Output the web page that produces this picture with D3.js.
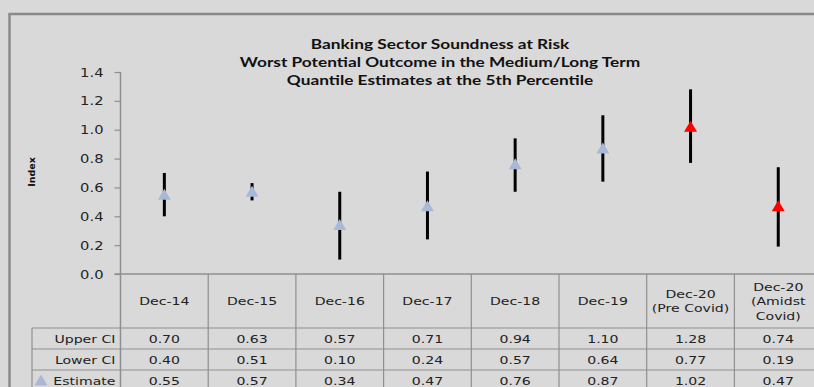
<!DOCTYPE html>
<html>
<head>
<meta charset="utf-8">
<script src="https://cdn.jsdelivr.net/npm/d3@7"></script>
<style>
  body { margin: 0; background: #d9d9d9; overflow: hidden; }
  svg { display: block; }
</style>
</head>
<body>
<div id="chart"></div>
<script>
// chart data
const categories = ["Dec-14", "Dec-15", "Dec-16", "Dec-17", "Dec-18", "Dec-19", "Dec-20 (Pre Covid)", "Dec-20 (Amidst Covid)"];
const headerLines = [["Dec-14"], ["Dec-15"], ["Dec-16"], ["Dec-17"], ["Dec-18"], ["Dec-19"], ["Dec-20", "(Pre Covid)"], ["Dec-20", "(Amidst", "Covid)"]];
const upperCI = [0.70, 0.63, 0.57, 0.71, 0.94, 1.10, 1.28, 0.74];
const lowerCI = [0.40, 0.51, 0.10, 0.24, 0.57, 0.64, 0.77, 0.19];
const estimate = [0.55, 0.57, 0.34, 0.47, 0.76, 0.87, 1.02, 0.47];
const highlighted = [false, false, false, false, false, false, true, true];
const yTicks = [0, 0.2, 0.4, 0.6, 0.8, 1.0, 1.2, 1.4];
const titleLines = ["Banking Sector Soundness at Risk", "Worst Potential Outcome in the Medium/Long Term", "Quantile Estimates at the 5th Percentile"];
const rowNames = ["Upper CI", "Lower CI", "Estimate"];

const width = 814, height = 387;
const margin = { top: 72, left: 120.5, bottom: 113 };
const colW = 87.7;
const gridColor = "#8f8f8f";
const blueTri = "#a7b9d7";
const sx = 1.28; // the reference text is stretched sideways
const font = "DejaVu Sans, sans-serif";

const svg = d3.select("#chart")
  .append("svg")
  .attr("width", width)
  .attr("height", height);

svg.append("rect").attr("width", width).attr("height", height).attr("fill", "#d9d9d9");

// outer frame
svg.append("rect")
  .attr("x", 9.5).attr("y", 14)
  .attr("width", width + 20).attr("height", height + 20)
  .attr("fill", "none")
  .attr("stroke", "#8a8a8a")
  .attr("stroke-width", 2.5);

const xScale = d3.scaleBand()
  .domain(categories)
  .range([margin.left, margin.left + colW * categories.length]);

const yScale = d3.scaleLinear()
  .domain([0, 1.4])
  .range([height - margin.bottom, margin.top]);

// helper: stretched text
function label(g, x, y, t, anchor, size) {
  return g.append("text")
    .attr("transform", `translate(${x},${y}) scale(${sx},1)`)
    .attr("text-anchor", anchor)
    .attr("font-family", font)
    .attr("font-size", size)
    .attr("fill", "#222")
    .text(t);
}

// title
svg.append("g").selectAll("text")
  .data(titleLines)
  .enter()
  .append("text")
    .attr("transform", (d, i) => `translate(440,${48.5 + i * 18.3}) scale(${sx},1)`)
    .attr("text-anchor", "middle")
    .attr("font-family", "Lato, sans-serif")
    .attr("font-weight", "bold")
    .attr("font-size", "13.5px")
    .attr("fill", "#111")
    .text(d => d);

// y axis
const yAxis = svg.append("g")
  .attr("transform", `translate(${margin.left},0)`)
  .call(d3.axisLeft(yScale).tickValues(yTicks).tickFormat(d3.format(".1f")).tickSize(6).tickPadding(10));
yAxis.select(".domain").attr("stroke", gridColor).attr("stroke-width", 1.5)
  .attr("d", `M0,${yScale(1.4)}V${height + 5}`);
yAxis.selectAll(".tick line").attr("stroke", gridColor).attr("stroke-width", 1.2);
yAxis.selectAll(".tick text").remove();
yAxis.selectAll(".tick").each(function(d) {
  label(d3.select(this), -17, 4, d3.format(".1f")(d), "end", "11.5px");
});

// y label
svg.append("text")
  .attr("transform", `translate(35,172) rotate(-90)`)
  .attr("text-anchor", "middle")
  .attr("font-family", font)
  .attr("font-weight", "bold")
  .attr("font-size", "9.5px")
  .attr("fill", "#111")
  .text("Index");

// x axis baseline
svg.append("line")
  .attr("x1", margin.left - 6).attr("x2", width + 10)
  .attr("y1", yScale(0)).attr("y2", yScale(0))
  .attr("stroke", gridColor).attr("stroke-width", 1.5);

// table grid
const rowTop = yScale(0) + 54;
const rowH = 21;
const tableLeft = 32;
const table = svg.append("g");
categories.forEach((c) => {
  table.append("line")
    .attr("x1", xScale(c) + colW).attr("x2", xScale(c) + colW)
    .attr("y1", yScale(0)).attr("y2", height + 5)
    .attr("stroke", gridColor).attr("stroke-width", 1.2);
});
rowNames.forEach((r, i) => {
  table.append("line")
    .attr("x1", tableLeft).attr("x2", width + 10)
    .attr("y1", rowTop + i * rowH).attr("y2", rowTop + i * rowH)
    .attr("stroke", gridColor).attr("stroke-width", 1.2);
});
table.append("line")
  .attr("x1", tableLeft).attr("x2", tableLeft)
  .attr("y1", rowTop).attr("y2", height + 5)
  .attr("stroke", gridColor).attr("stroke-width", 1.2);

// header labels
headerLines.forEach((lines, i) => {
  const cx = xScale(categories[i]) + colW / 2;
  const midY = (yScale(0) + rowTop) / 2 + 4;
  lines.forEach((t, j) => {
    label(table, cx, midY + (j - (lines.length - 1) / 2) * 14.5, t, "middle", "11px");
  });
});

// row labels and values
const rows = [upperCI, lowerCI, estimate];
rows.forEach((vals, r) => {
  const ty = rowTop + r * rowH + rowH / 2 + 4;
  label(table, margin.left - 5, ty, rowNames[r], "end", "11px");
  vals.forEach((v, i) => {
    label(table, xScale(categories[i]) + colW / 2, ty, v.toFixed(2), "middle", "11px");
  });
});

// legend marker in the table
const legY = rowTop + 2 * rowH + rowH / 2;
table.append("path")
  .attr("d", `M${41},${legY - 6}L${47.5},${legY + 5}L${34.5},${legY + 5}Z`)
  .attr("fill", blueTri);

// error bars
svg.append("g").selectAll("line")
  .data(categories)
  .enter()
  .append("line")
    .attr("x1", d => xScale(d) + colW / 2)
    .attr("x2", d => xScale(d) + colW / 2)
    .attr("y1", (d, i) => yScale(lowerCI[i]))
    .attr("y2", (d, i) => yScale(upperCI[i]))
    .attr("stroke", "#000")
    .attr("stroke-width", 3);

// estimate triangles
const tri = (cx, cy) => `M${cx},${cy - 6}L${cx + 6.5},${cy + 5}L${cx - 6.5},${cy + 5}Z`;
svg.append("g").selectAll("path")
  .data(estimate)
  .enter()
  .append("path")
    .attr("d", (d, i) => tri(xScale(categories[i]) + colW / 2, yScale(d)))
    .attr("fill", (d, i) => highlighted[i] ? "#ff0000" : blueTri);
</script>
</body>
</html>
